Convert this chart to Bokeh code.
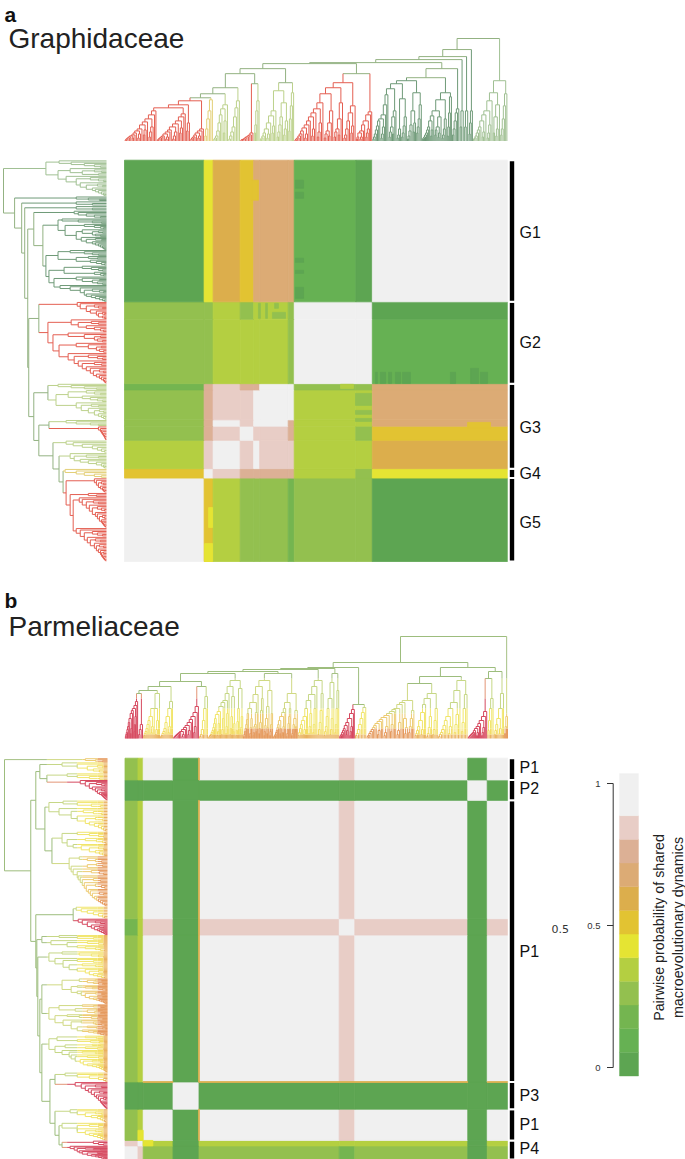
from bokeh.embed import file_html
from bokeh.resources import INLINE
from bokeh.plotting import figure
from bokeh.models import ColumnDataSource, LinearColorMapper, Range1d
from bokeh.core.properties import value
from bokeh.transform import transform
import numpy as np

W, H = 685, 1159

# ---- colour legend -------------------------------------------------------
CBAR_P = [0.01, 0.09, 0.18, 0.26, 0.34, 0.43, 0.51, 0.59, 0.68, 0.76, 0.84, 0.95]
PALETTE = ["#5da552", "#66b153", "#74b550", "#93c04f", "#b4cf41", "#e5e433",
           "#e2c332", "#dcae4c", "#dcab75", "#dcb095", "#e8cdc6", "#f0f0f0", "#f0f0f0"]
CBAR_LOW, CBAR_HIGH, CBAR_TOP = -0.03, 1.0533, 1.035
CBAR_TICKS = [0, 0.5, 1]
CBAR_TICK_LABELS = ["0", "0.5", "1"]
CBAR_TITLE = ["Pairwise probability of shared", "macroevolutionary dynamics"]

# ---- Graphidaceae: clade blocks (tips) and pairwise probability ----------
BLOCKS_A = [53, 6, 18, 9, 4, 19, 4, 41, 11, 90]
MATRIX_A = [
    [.95, .51, .34, .26, .26, .26, .18, .26, .26, .01],
    [.51, .95, .84, .76, .76, .76, .76, .34, .26, .43],
    [.34, .84, .95, .84, .95, .84, .84, .34, .34, .59],
    [.26, .76, .84, .95, .84, .84, .76, .34, .26, .51],
    [.26, .76, .95, .84, .95, .95, .76, .34, .34, .68],
    [.26, .76, .84, .84, .95, .95, .95, .34, .34, .68],
    [.18, .76, .84, .76, .76, .95, .95, .26, .26, .68],
    [.26, .26, .34, .34, .34, .34, .26, .95, .95, .09],
    [.26, .26, .34, .26, .34, .34, .26, .95, .95, .01],
    [.01, .43, .59, .51, .68, .68, .68, .09, .01, .95],
]
# local patches: column from, column to, row from, row to, probability
PATCHES_A = [
    (113.8, 119.2, 237.2, 242.3, .01), (113.8, 119.2, 230.8, 234.7, .01),
    (113.8, 119.2, 190.1, 192.7, .01), (113.8, 119.2, 183.1, 185, .01),
    (113.8, 119.2, 167.2, 174.2, .01),
    (167.1, 168.4, 113.2, 120.2, .01), (170.4, 173.8, 113.2, 120.2, .01),
    (175.8, 177.8, 113.2, 120.2, .01), (180.4, 183.8, 113.2, 120.2, .01),
    (185.1, 190.4, 113.2, 120.2, .01), (217, 220.4, 113.2, 120.2, .01),
    (230.4, 235.7, 113.2, 122.7, .01), (237, 241.7, 113.2, 120.2, .01),
    (228.4, 243.7, 84.6, 88.4, .51), (153.8, 164.4, 99.2, 106.8, .26),
    (153.8, 164.4, 93.5, 96, .26), (153.8, 164.4, 89, 90.9, .26),
    (89.2, 90.5, 154.5, 164, .26), (93.9, 95.2, 154.5, 164, .26),
    (98.5, 107.2, 154.5, 158.3, .26), (99.9, 102.5, 160.9, 164, .26),
    (143.8, 152.5, 110, 112.6, .34),
    (53.3, 58.6, 0, 11.4, .43), (56, 58.6, 21.6, 34.3, .43),
    (84.6, 89.2, 229.6, 242.3, .51),
]
GROUPS_A = ["G5", "G4", "G3", "G2", "G1"]
GROUP_FROM_A = [0, 53, 59, 113, 165]
GROUP_TO_A = [53, 59, 113, 165, 255]
GROUP_LABEL_AT_A = [25, 56, 85, 139, 209]

# ---- Parmeliaceae ---------------------------------------------------------
BLOCKS_B = [10, 4, 23, 20, 108, 12, 87, 15, 16]
MATRIX_B = [
    [.95, .84, .26, .01, .26, .18, .26, .01, .26],
    [.84, .95, .34, .01, .34, .34, .34, .01, .34],
    [.26, .34, .95, .01, .95, .84, .95, .01, .95],
    [.01, .01, .01, .95, .01, .01, .01, .01, .01],
    [.26, .34, .95, .01, .95, .84, .95, .01, .95],
    [.18, .34, .84, .01, .84, .95, .84, .01, .84],
    [.26, .34, .95, .01, .95, .84, .95, .01, .95],
    [.01, .01, .01, .01, .01, .01, .01, .95, .01],
    [.26, .34, .95, .01, .95, .84, .95, .01, .95],
]
PATCHES_B = [
    (10, 14, 14, 21.5, .43), (14, 21.5, 10, 14, .43),
    (56.6, 57.3, 14, 37, .59), (56.6, 57.3, 57, 264, .59), (56.6, 57.3, 279, 295, .59),
    (14, 37, 56.6, 57.3, .59), (57, 264, 56.6, 57.3, .59), (279, 295, 56.6, 57.3, .59),
]
GROUPS_B = ["P4", "P1", "P3", "P1", "P2", "P1"]
GROUP_FROM_B = [0, 14, 37, 57, 264, 279]
GROUP_TO_B = [14, 37, 57, 264, 279, 295]
GROUP_LABEL_AT_B = [8, 26, 47, 153, 273, 288]

# ---- trees: a list runs down a clade's spine, each step is a node height,
#      its right child a tip or, as [height, sub-list], a sub-clade ---------
G5_S3 = [12, 10, [8, [5, 3]], 6, 4, 3, 2]
G5_S2 = [27, 24, [20, [13, 8]], 17, [14, [9, 5, 2]], 11, 9, [7, [4, 2]], 5, 4, 3, 2, 1]
G5_S1 = [30, 26, [22, [14, 9, 4]], 19, [16, [11, 6]], 12, [10, [7, 3]], 8, 6, [5, [3]], 4, 3, 2, 1]
G5_A = [[40, G5_S3], [36, [18, 10]], [33, G5_S2]] + G5_S1
G4_A = [41, 30, 22, 12, 5]
C1_A = [36, [32, [20, 8]], 26, 18, 10, 5, 3, 2]
C2_A = [40, 33, 24, 14, 9, 5, 2]
D_A = [8, 6, 5, 4, 3, 2, 1.5, 1]
E1_A = [40, 30, 16, 8]
E2_A = [[50, [[38, [20, 12, 6]], 24, 16, 9, 4]], 30, [25, [15, 8]], 18, [12, [7, 3]], 8, 5, 3, 1.5]
F_A = [48, 35, 22, 10]
H_A = [[58, [35, [28, [15, 8]], 20, 12, 6, 3]], [53, [38, 22, [12, [6]], 9, 4]],
       [47, [30, 18, [10, [5]], 7, 3]], 38, [32, [18, 9, 4]], 28, [24, [12, 5]], 20, 16,
       [13, [7, 3]], 10, 7, 5, 3, 2, 1]
I_A = [29, 26, [20, [12, 8, 4]], 16, 10, [8, [4, 2]], 4, 2]
DK1_A = [[60, [[48, [36, 22, 14, 8]], [30, [18, 9]], 16, 10, 5, 2]],
         [57, [[42, [24, 15, 8, 4]], 12, 6, 3]], [52, [30, 24, [14, [7]], 9, 4]],
         46, 36, 26, [22, [14, 7, 3]], 20, 15, 11, 7, 4, 2]
DK2_A = [[48, [44, 28, 14, 5]], [41, [22, 12, 6, 3]], [30, [24, [14, [8, 4]], 11, 6]],
         25, [20, [11, 5]], 14, 11, 8, 6, 4, 3, 2]
DK3_A = [32, 28, 20, 12, 6]
DK4_A = [30, 14]
DK5_A = [30, 14]
DK6_A = [30, 18, 7]
R1_A = [[60, [47, 35, 22, 12, 6]], [48, [36, [24, [12, 5]], 8]], 40, [30, [16, 8, 3]], 26,
        [20, [9, 4]], 14, 11, 8, 5, 3, 2]

A_B = [37, 33, [30, [22, 14, 7]], 28, 25, [20, [10, 5]], 16, 12, 9, 6, 4, 2]
B_B = [14, 9, 4]
C1_B = [45, [30, [18, 9, 4]], 30, [22, [12, 6]], 18, 14, 10, 7, 5, 3]
C2_B = [37, 30, [22, [12, 6]], 16, 10, 7, 5, 3, 2]
D_B = [32, 26, [22, [12, 6]], 19, 16, [13, [8, 4]], 11, 9, [7, [4, 2]], 6, 5, 4, 3, 2, 1]
E1_B = [42, 30, 18, 9, 4, 2]
E2_B = [[58, [[50, [22, 11, 5]], 30, 17, 8, 3]], [52, [[42, [15, 7]], 22, 10, 4]], 45,
        [38, [25, 12, 5]], 36, [32, [20, 9, 4]], 27, [24, [15, 7, 3]], 20, 15, 11, 8, 6, 4, 3, 2, 1]
E3_B = [[65, [[45, [28, [20, [12, 6]], 14, 9, 5, 3]], [36, [30, 22, 15, 9, 5, 2]], 30, 26,
              [22, [12, 6, 3]], [18, [10, 5]], 14, 11, 8, 6, 4, 3, 2, 1]],
        [58, [[48, [25, 14, 7, 3]], 32, [20, [11, 5]], 13, 7, 3]],
        [52, [40, 28, [16, [8]], 10, 5]], 44, [36, [26, [14, [7]], 12, 6, 3]],
        [30, [20, 11, 5, 2]], 25, 19, 14, 10, 7, 4, 2]
E4_B = [[58, [45, 28, 16, 9, 4]], 52, [44, [30, 14, 6]], [38, [25, 12, 5]], 30, 22, [18, [9, 4]], 14, 10, 6, 3]
E5_B = [[65, [48, 30, 14, 6]], 56, [40, [20, 9, 4]], 30, 22, 12, 7, 3]
F_B = [29, 25, [20, [12, 7, 3]], 16, [13, [8, 4]], 10, 8, 6, 4, 3, 2]
G1_B = [31, 26, 20, 14, 9, 5, 3]
G2_B = [[38, [28, 20, 12, 6]], [36, [[20, [11, 5]]]], 34, [30, [16, 8, 4]], 29, 27, [25, [14, 7]],
        23, [21, [12, 6, 3]], 19, 17, [15, [8, 4]], 13, 11, 9, 7, 5, 3, 2]
G3_B = [[45, [30, 18, 9, 4]], [40, [22, 11, 5, 2]], 34, 26, [18, [9, 4]], 12, 8, 5, 3]
G4_B = [[58, [44, 30, 16, 7]], 48, [36, [24, 14, 6]], 30, [22, [12, 5]], 18, 13, 9, 6, 4, 2]
H_B = [27, 22, [18, [11, 6, 3]], 15, 12, [10, [6, 3]], 8, 6, 5, 4, 3, 2, 1]
I1_B = [40, 30, 18, 8]
I2_B = [45, 30, [20, [10, 5]], 14, 8, 4]
I3_B = [22, 12, 5]

# ---- text ----------------------------------------------------------------
PANEL_LETTERS = ["a", "b"]
PANEL_TITLES = ["Graphidaceae", "Parmeliaceae"]

# ---- branch colours by height (lowest height first match from the top) ----
RAMP_BACK_A = [(0, "#93b282")]
RAMP_RED_A = [(0, "#e45f52")]
RAMP_GOLD_A = [(0, "#e3cf77")]
RAMP_OLIVE_A = [(0, "#bcd18b")]
RAMP_DARK_A = [(0, "#6f9a78")]
RAMP_LIGHT_A = [(0, "#a0c093")]
RAMP_YEL_B = [(60, "#a5c184"), (30, "#c6d786"), (10, "#f1e56a"), (4, "#f3dc60"), (0, "#e9b05e")]
RAMP_ORG_B = [(60, "#a5c184"), (25, "#d0d984"), (10, "#edcb72"), (0, "#e5995c")]
RAMP_RED_B = [(40, "#e39576"), (0, "#d6495f")]
RAMP_BACK_B = [(0, "#9dbd7d")]


class Node:
    def __init__(self, h, kids, ramp, units=None):
        self.h, self.kids, self.ramp, self.units = h, kids, ramp, units
        self.pos = 0.0


class Clade:
    def __init__(self, steps, units, ramp):
        self.steps, self.units, self.ramp = steps, units, ramp


def build(seq, ramp):
    if isinstance(seq, Clade):
        node = build(seq.steps, seq.ramp)
        node.units = seq.units
        return node
    items = list(seq)
    node = build(items.pop(), ramp) if isinstance(items[-1], Clade) else Node(0, [], ramp)
    for step in reversed(items):
        if isinstance(step, (int, float)):
            h, right = step, Node(0, [], ramp)
        else:
            h, right = step[0], build(step[1], ramp)
        node = Node(h, [node, right], ramp)
    return node


def count(n):
    return 1 if not n.kids else sum(count(k) for k in n.kids)


def place(n, cursor, spacing):
    if n.units:
        spacing = n.units / count(n)
    if not n.kids:
        n.pos = cursor + spacing / 2
        return cursor + spacing
    for k in n.kids:
        cursor = place(k, cursor, spacing)
    n.pos = (n.kids[0].pos + n.kids[-1].pos) / 2
    return cursor


def colour_at(ramp, h):
    for lo, c in ramp:
        if h >= lo:
            return c
    return ramp[-1][1]


def segments(root):
    out = {"r0": [], "h0": [], "r1": [], "h1": [], "c": []}

    def add(r0, h0, r1, h1, c):
        for key, v in zip(("r0", "h0", "r1", "h1", "c"), (r0, h0, r1, h1, c)):
            out[key].append(v)

    def walk(n):
        if not n.kids:
            return
        add(n.kids[0].pos, n.h, n.kids[-1].pos, n.h, colour_at(n.ramp, n.h))
        for k in n.kids:
            cuts = sorted({k.h, n.h} | {lo for lo, _ in k.ramp if k.h < lo < n.h})
            for low, up in zip(cuts[:-1], cuts[1:]):
                add(k.pos, up, k.pos, low, colour_at(k.ramp, low))
            walk(k)

    walk(root)
    return ColumnDataSource(out)


def xrange_for(px0, v0, px1, v1):
    k = (v1 - v0) / (px1 - px0)
    return Range1d(v0 - px0 * k, v0 + (W - px0) * k)


def yrange_for(px0, v0, px1, v1):
    k = (v1 - v0) / (px1 - px0)
    return Range1d(v0 + (H - px0) * k, v0 - px0 * k)


# ---- assemble the trees ----------------------------------------------------
G1CORE_A = [[72, Clade(DK3_A, 5, RAMP_DARK_A)], [63, Clade(DK2_A, 20, RAMP_DARK_A)],
            Clade(DK1_A, 33, RAMP_DARK_A)]
RED_A = [[67, Clade(I_A, 11, RAMP_RED_A)], Clade(H_A, 41, RAMP_RED_A)]
OLV_A = [[58, Clade(F_A, 4, RAMP_OLIVE_A)], Clade(E2_A, 19, RAMP_OLIVE_A)]
MINI_A = [[57, Clade(E1_A, 4, RAMP_OLIVE_A)], Clade(D_A, 9, RAMP_RED_A)]
TREE_A = [[102, Clade(R1_A, 23, RAMP_LIGHT_A)], [91, Clade(DK6_A, 3, RAMP_DARK_A)],
          [84, Clade(DK5_A, 3, RAMP_DARK_A)], [81, Clade(DK4_A, 3, RAMP_DARK_A)],
          [78, G1CORE_A], [77, RED_A], [72, OLV_A], [67, MINI_A],
          [53, Clade(C2_A, 8, RAMP_OLIVE_A)], [47, Clade(C1_A, 10, RAMP_OLIVE_A)],
          [43, Clade(G4_A, 6, RAMP_GOLD_A)], Clade(G5_A, 53, RAMP_RED_A)]

NODE67_B = [[67, Clade(I2_B, 8, RAMP_YEL_B)], [60, Clade(I1_B, 5, RAMP_YEL_B)], Clade(H_B, 15, RAMP_RED_B)]
RIGHT_B = [[71, NODE67_B], [62, Clade(G4_B, 23, RAMP_YEL_B)], [55, Clade(G3_B, 18, RAMP_YEL_B)],
           Clade(G2_B, 37, RAMP_ORG_B)]
MID_B = [[34, Clade(G1_B, 9, RAMP_YEL_B)], Clade(F_B, 12, RAMP_RED_B)]
D1_B = [[52, Clade(E1_B, 7, RAMP_YEL_B)], Clade(D_B, 20, RAMP_RED_B)]
TREE_B = [[102, Clade(I3_B, 3, RAMP_ORG_B)], [76, RIGHT_B], [71, MID_B],
          [70, Clade(E5_B, 12, RAMP_YEL_B)], [69, Clade(E4_B, 20, RAMP_YEL_B)],
          [67, Clade(E3_B, 42, RAMP_ORG_B)], [65, Clade(E2_B, 27, RAMP_YEL_B)],
          [57, D1_B], [52, Clade(C2_B, 10, RAMP_YEL_B)], [48, Clade(C1_B, 13, RAMP_YEL_B)],
          [45, Clade(B_B, 4, RAMP_RED_B)], Clade(A_B, 10, RAMP_RED_B)]

# ---- canvas ----------------------------------------------------------------
p = figure(width=W, height=H, x_range=Range1d(0, W), y_range=Range1d(H, 0),
           x_axis_type=None, y_axis_type=None, toolbar_location=None,
           output_backend="svg", min_border=0, outline_line_color=None,
           background_fill_color="white", border_fill_color="white")
p.grid.visible = False

mapper = LinearColorMapper(palette=PALETTE, low=CBAR_LOW, high=CBAR_HIGH)


def panel(tag, root_seq, back, blocks, matrix, patches, names, g_from, g_to, g_at,
          mx0, mx1, my0, my1, base_y, top_y, base_x, top_x, letter, title, letter_y, title_y):
    n = sum(blocks)
    rx, ry, hy, hx = f"{tag}rx", f"{tag}ry", f"{tag}hy", f"{tag}hx"
    p.extra_x_ranges[rx] = xrange_for(mx0, 0, mx1, n)
    p.extra_y_ranges[ry] = yrange_for(my1, 0, my0, n)
    p.extra_y_ranges[hy] = yrange_for(base_y, 0, top_y, 102)
    p.extra_x_ranges[hx] = xrange_for(base_x, 0, top_x, 102)

    edges = np.concatenate([[0], np.cumsum(blocks)])
    cells = {"l": [], "r": [], "b": [], "t": [], "p": []}
    for i, row in enumerate(matrix):
        for j, v in enumerate(row):
            cells["l"].append(edges[j]); cells["r"].append(edges[j + 1])
            cells["b"].append(edges[i]); cells["t"].append(edges[i + 1])
            cells["p"].append(v)
    for c0, c1, r0, r1, v in patches:
        cells["l"].append(c0); cells["r"].append(c1)
        cells["b"].append(r0); cells["t"].append(r1)
        cells["p"].append(v)
    col = transform("p", mapper)
    p.quad(left="l", right="r", bottom="b", top="t", source=ColumnDataSource(cells),
           fill_color=col, line_color=col, line_width=0.8, x_range_name=rx, y_range_name=ry)

    tree = build(root_seq, back)
    place(tree, 0.0, 1.0)
    src = segments(tree)
    p.segment(x0="r0", y0="h0", x1="r1", y1="h1", source=src, line_color="c", line_width=1,
              x_range_name=rx, y_range_name=hy)
    p.segment(x0="h0", y0="r0", x1="h1", y1="r1", source=src, line_color="c", line_width=1,
              x_range_name=hx, y_range_name=ry)

    bars = ColumnDataSource(dict(b=g_from, t=g_to))
    p.quad(left=508.3, right=514.7, bottom="b", top="t", source=bars, fill_color="black",
           line_color="white", line_width=2, y_range_name=ry)
    p.text(x=519, y=g_at, text=names, y_range_name=ry, text_font=value("Liberation Sans"),
           text_font_size="16px", text_baseline="middle", text_color="#111111")

    p.text(x=[4], y=[letter_y], text=[letter], text_font=value("Liberation Sans"),
           text_font_style="bold", text_font_size="21px", text_baseline="alphabetic",
           text_color="#111111")
    p.text(x=[8], y=[title_y], text=[title], text_font=value("Liberation Sans"),
           text_font_size="28px", text_baseline="alphabetic", text_color="#222222")


panel("a", TREE_A, RAMP_BACK_A, BLOCKS_A, MATRIX_A, PATCHES_A, GROUPS_A, GROUP_FROM_A, GROUP_TO_A,
      GROUP_LABEL_AT_A, 124, 507, 159.7, 561, 140.5, 38, 106, 3, PANEL_LETTERS[0], PANEL_TITLES[0], 14, 38)
panel("b", TREE_B, RAMP_BACK_B, BLOCKS_B, MATRIX_B, PATCHES_B, GROUPS_B, GROUP_FROM_B, GROUP_TO_B,
      GROUP_LABEL_AT_B, 124.5, 507.5, 757.7, 1159, 738, 636, 107, 4, PANEL_LETTERS[1], PANEL_TITLES[1], 600, 626)

# ---- legend ----------------------------------------------------------------
p.extra_y_ranges["legend"] = yrange_for(1067, 0, 783, 1)
leg_edges = [CBAR_LOW + i / 12 for i in range(12)] + [CBAR_TOP]
leg = ColumnDataSource(dict(b=leg_edges[:-1], t=leg_edges[1:], p=CBAR_P))
legcol = transform("p", mapper)
p.quad(left=619, right=638, bottom="b", top="t", source=leg, fill_color=legcol, line_color=legcol,
       line_width=0.4, y_range_name="legend")
p.segment(x0=[612.7], x1=[612.7], y0=[CBAR_TICKS[0]], y1=[CBAR_TICKS[-1]], line_color="#333333",
          line_width=1, y_range_name="legend")
p.segment(x0=606.5, x1=612.7, y0=CBAR_TICKS, y1=CBAR_TICKS, line_color="#333333", line_width=1,
          y_range_name="legend")
p.text(x=600, y=CBAR_TICKS, text=CBAR_TICK_LABELS, y_range_name="legend", text_align="right",
       text_baseline="middle", text_font=value("Liberation Sans"), text_font_size="9.5px",
       text_color="#333333")
p.text(x=[551], y=[928], text=["0.5"], text_baseline="middle", text_font=value("DejaVu Sans"),
       text_font_size="11px", text_color="#333333")
p.text(x=[658, 677], y=[927, 927], text=CBAR_TITLE, angle=np.pi / 2, text_align="center",
       text_baseline="middle", text_font=value("Liberation Sans"), text_font_size="14.3px",
       text_color="#222222")

open("out.html", "w").write(file_html(p, INLINE))
